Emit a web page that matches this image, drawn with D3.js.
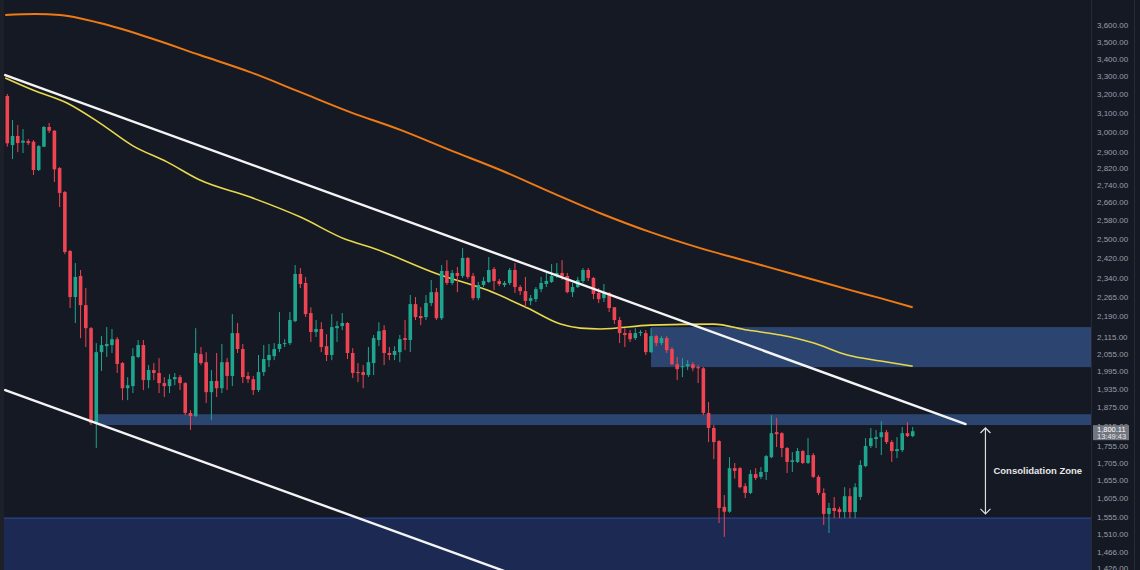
<!DOCTYPE html>
<html>
<head>
<meta charset="utf-8">
<script src="https://cdn.jsdelivr.net/npm/d3@7"></script>
<style>
    html, body { margin: 0; padding: 0; background: #151924; }
    svg { display: block; }
    .priceAxis text { fill: #9a9ea8; font-family: "Liberation Sans", Arial, sans-serif; font-size: 8px; }
    .zoneLabel { fill: #e6e6e6; font-family: "Liberation Sans", Arial, sans-serif; font-size: 9.5px; font-weight: bold; }
    .lastLabel { fill: #ffffff; font-family: "Liberation Sans", Arial, sans-serif; font-size: 7.5px; }
</style>
</head>
<body>
<div id="chart"></div>
<script>
{
    // candles, one entry per bar (oldest first)
    const opens = [3189,2933,2979,2945,2953,2950,2811,2925,3025,3006,2820,2707,2448,2263,2346,2232,2146,1825,2060,2081,
        2085,2106,2022,1937,1944,2043,2085,1964,1998,1988,1954,1944,1967,1974,1954,1857,1847,2053,2025,1924,
        1961,1937,2025,1978,2128,2071,1978,1967,1931,1991,2032,2046,2071,2089,2092,2172,2354,2318,2202,2132,
        2143,2081,2050,2146,2154,2165,2057,1991,1991,1981,2022,2103,2139,2057,2050,2060,2110,2103,2236,2191,
        2187,2240,2282,2183,2366,2318,2358,2346,2419,2346,2259,2310,2322,2374,2326,2310,2318,2370,2302,2286,
        2248,2255,2294,2314,2322,2346,2358,2346,2282,2302,2326,2370,2338,2279,2259,2279,2224,2176,2128,2128,
        2110,2128,2128,2060,2117,2092,2110,2071,2018,2008,2011,2018,2008,2004,1857,1810,1770,1582,1569,1690,
        1690,1639,1620,1673,1665,1679,1722,1797,1794,1749,1708,1708,1740,1705,1728,1665,1620,1563,1579,1576,
        1568,1611,1568,1609,1696,1755,1776,1782,1797,1767,1740,1743,1794,1785];
    const highs = [3200,3061,3035,3014,2963,2958,2933,3030,3046,3009,2825,2712,2452,2398,2370,2298,2150,2092,2117,2150,
        2143,2114,2026,1974,2074,2103,2103,2015,2022,2039,1974,1984,1988,1981,1957,1866,2146,2078,2060,1998,
        2057,2089,2039,2198,2165,2089,1991,1978,2050,2085,2089,2092,2206,2106,2206,2390,2378,2342,2224,2176,
        2168,2124,2198,2172,2202,2168,2074,2022,2015,2078,2121,2168,2157,2078,2081,2121,2176,2271,2263,2224,
        2271,2330,2298,2390,2410,2370,2382,2460,2423,2358,2322,2342,2423,2382,2334,2326,2378,2398,2310,2342,
        2271,2302,2342,2358,2394,2398,2410,2358,2318,2342,2378,2378,2342,2298,2314,2282,2224,2187,2146,2139,
        2146,2139,2139,2146,2121,2117,2117,2078,2043,2039,2032,2025,2015,2008,1892,1819,1773,1614,1722,1705,
        1693,1647,1685,1690,1693,1728,1850,1841,1797,1752,1737,1749,1743,1779,1734,1670,1633,1593,1609,1582,
        1636,1633,1647,1713,1779,1810,1804,1831,1804,1773,1782,1813,1828,1813];
    const lows = [2925,2864,2898,2893,2933,2787,2806,2923,2994,2754,2639,2435,2221,2165,2110,2078,1819,1749,1995,2043,
        2057,1988,1898,1898,1921,2039,1931,1937,1964,1921,1908,1921,1947,1931,1850,1804,1844,2015,1889,1834,
        1908,1921,1931,1944,2057,1954,1954,1915,1924,1978,2008,2032,2060,2078,2085,2168,2298,2187,2096,2114,
        2060,2029,2032,2096,2139,2036,1971,1957,1937,1974,1981,2081,2015,2032,2032,2025,2067,2060,2176,2157,
        2176,2228,2176,2176,2310,2310,2282,2338,2334,2251,2251,2302,2318,2290,2306,2302,2310,2279,2271,2224,
        2232,2244,2282,2302,2318,2338,2330,2278,2263,2298,2318,2326,2255,2240,2244,2206,2161,2092,2078,2096,
        2103,2117,2050,2057,2081,2085,2057,2015,1964,1974,1998,1994,1954,1850,1767,1716,1539,1503,1566,1660,
        1633,1606,1617,1656,1659,1656,1719,1752,1722,1676,1679,1705,1702,1702,1662,1614,1534,1513,1552,1552,
        1552,1552,1552,1601,1693,1749,1749,1728,1761,1708,1719,1737,1782,1782];
    const closes = [2942,2979,2943,2955,2943,2811,2928,3025,3006,2814,2703,2444,2263,2342,2232,2146,1825,2060,2085,2089,
        2106,2019,1937,1947,2046,2085,1964,1998,1988,1954,1944,1967,1974,1954,1857,1847,2057,2022,1924,1961,
        1937,2025,1978,2128,2071,1974,1967,1931,1991,2036,2050,2071,2089,2092,2176,2354,2314,2198,2132,2143,
        2078,2050,2150,2154,2165,2057,1988,1988,1981,2025,2110,2135,2057,2050,2064,2106,2103,2236,2187,2183,
        2240,2282,2183,2366,2318,2358,2346,2419,2342,2259,2310,2326,2370,2326,2314,2318,2370,2302,2286,2248,
        2259,2294,2318,2326,2346,2358,2346,2282,2302,2330,2370,2338,2275,2255,2279,2221,2176,2128,2121,2106,
        2128,2132,2060,2117,2092,2110,2067,2018,2001,2011,2018,2004,2004,1857,1810,1767,1579,1569,1690,1682,
        1636,1620,1673,1662,1679,1725,1794,1791,1749,1708,1713,1740,1705,1728,1665,1620,1563,1579,1571,1568,
        1611,1568,1636,1699,1755,1779,1782,1797,1767,1740,1746,1794,1785,1800];

    // moving averages, sampled at bar positions
    const yellowIdx = [-0.4, 4.9, 11.4, 17.7, 24, 30.5, 36.8, 46.4, 56, 65, 69.4, 82.2, 91.7, 99.4, 105.7, 109.5, 113.3, 122.9, 134.9, 141.4, 147.7, 154.1, 160.5, 166.9, 173];
    const yellowMa = [3289, 3222, 3151, 3045, 2929, 2850, 2763, 2684, 2594, 2494, 2464, 2354, 2290, 2221, 2161, 2146, 2143, 2157, 2161, 2139, 2121, 2092, 2050, 2029, 2011];
    const orangeIdx = [-0.4, 5.3, 10.1, 17.7, 27.3, 36.8, 46.4, 56, 65.5, 75.1, 84.6, 94.2, 103.8, 113.3, 122.9, 132.4, 142, 151.5, 161.1, 166.8, 173];
    const orangeMa = [3662, 3668, 3662, 3612, 3521, 3420, 3322, 3210, 3103, 3010, 2908, 2811, 2707, 2611, 2528, 2460, 2402, 2346, 2290, 2259, 2224];

    // right price scale
    const priceTicks = [3600, 3500, 3400, 3300, 3200, 3100, 3000, 2900, 2820, 2740, 2660, 2580, 2500, 2420, 2340,
        2265, 2190, 2115, 2055, 1995, 1935, 1875, 1815, 1755, 1705, 1655, 1605, 1555, 1510, 1466, 1426];

    // zones: start bar, top price, bottom price
    const zoneStart = [123, 17, -2];
    const zoneTop = [2150, 1853, 1552];
    const zoneBottom = [2008, 1819, 1380];

    // drawn trend lines [bar, price]
    const upperTrend = [[-0.4, 3305], [183.1, 1822]];
    const lowerTrend = [[-0.4, 1931], [100, 1395]];

    // consolidation arrow
    const consolBar = 186.9;
    const consolRange = [1810, 1563];
    const lastPrice = 1800.11;
    const lastTime = "13:49:43";

    const width = 1140, height = 570, plotRight = 1091;

    const x = d3.scaleLinear().domain([0, 173]).range([7.3, 912.7]);
    const y = d3.scaleLog().domain([3600, 1426]).range([25, 567.7]);

    const svg = d3.select("#chart")
        .append("svg")
        .attr("width", width)
        .attr("height", height);

    svg.append("rect")
        .attr("width", width)
        .attr("height", height)
        .attr("fill", "#151924");

    svg.append("clipPath")
        .attr("id", "plotClip")
        .append("rect")
        .attr("x", 0).attr("y", 0)
        .attr("width", plotRight).attr("height", height);

    const plot = svg.append("g").attr("clip-path", "url(#plotClip)");

    // zones
    const zoneFill = ["#2c4570", "#2c4570", "#1b2953"];
    plot.selectAll(".zone")
        .data(zoneStart)
        .join("rect")
        .attr("class", "zone")
        .attr("x", d => x(d))
        .attr("y", (d, i) => y(zoneTop[i]))
        .attr("width", d => plotRight - x(d))
        .attr("height", (d, i) => y(zoneBottom[i]) - y(zoneTop[i]))
        .attr("fill", (d, i) => zoneFill[i]);

    plot.append("line")
        .attr("x1", x(zoneStart[2])).attr("x2", plotRight)
        .attr("y1", y(zoneTop[2])).attr("y2", y(zoneTop[2]))
        .attr("stroke", "#2f4fa6")
        .attr("stroke-width", 1);

    // moving averages
    const maLine = d3.line()
        .x(d => x(d[0]))
        .y(d => y(d[1]))
        .curve(d3.curveMonotoneX);

    plot.append("path")
        .datum(orangeIdx.map((d, i) => [d, orangeMa[i]]))
        .attr("d", maLine)
        .attr("fill", "none")
        .attr("stroke", "#ef7a14")
        .attr("stroke-width", 2);

    plot.append("path")
        .datum(yellowIdx.map((d, i) => [d, yellowMa[i]]))
        .attr("d", maLine)
        .attr("fill", "none")
        .attr("stroke", "#e8d84c")
        .attr("stroke-width", 1.6);

    // candles
    const bars = d3.range(opens.length);
    const up = i => closes[i] >= opens[i];
    const red = "#ef4452", green = "#1fa58e";

    plot.selectAll(".wick")
        .data(bars)
        .join("line")
        .attr("class", "wick")
        .attr("x1", i => x(i)).attr("x2", i => x(i))
        .attr("y1", i => y(highs[i]))
        .attr("y2", i => y(lows[i]))
        .attr("stroke", i => up(i) ? green : red)
        .attr("stroke-width", 1);

    plot.selectAll(".body")
        .data(bars)
        .join("rect")
        .attr("class", "body")
        .attr("x", i => x(i) - 1.8)
        .attr("y", i => y(Math.max(opens[i], closes[i])))
        .attr("width", 3.6)
        .attr("height", i => Math.max(1, y(Math.min(opens[i], closes[i])) - y(Math.max(opens[i], closes[i]))))
        .attr("fill", i => up(i) ? green : red);

    // trend lines
    [upperTrend, lowerTrend].forEach(t => {
        plot.append("line")
            .attr("x1", x(t[0][0])).attr("y1", y(t[0][1]))
            .attr("x2", x(t[1][0])).attr("y2", y(t[1][1]))
            .attr("stroke", "#f4f4f4")
            .attr("stroke-width", 2.4)
            .attr("stroke-linecap", "round");
    });

    // consolidation arrow + label
    const ax = x(consolBar), aTop = y(consolRange[0]), aBot = y(consolRange[1]);
    plot.append("line")
        .attr("x1", ax).attr("x2", ax)
        .attr("y1", aTop).attr("y2", aBot)
        .attr("stroke", "#dcdcdc")
        .attr("stroke-width", 1.2);
    plot.append("path")
        .attr("d", `M${ax - 5},${aTop + 5}L${ax},${aTop}L${ax + 5},${aTop + 5}M${ax - 5},${aBot - 5}L${ax},${aBot}L${ax + 5},${aBot - 5}`)
        .attr("fill", "none")
        .attr("stroke", "#dcdcdc")
        .attr("stroke-width", 1.2);

    plot.append("text")
        .attr("class", "zoneLabel")
        .attr("x", ax + 8)
        .attr("y", (aTop + aBot) / 2)
        .attr("dy", "0.35em")
        .text("Consolidation Zone");

    // left border strip and price scale separators
    svg.append("rect")
        .attr("x", 0).attr("y", 0)
        .attr("width", 4).attr("height", height)
        .attr("fill", "#1d2029");
    svg.append("line")
        .attr("x1", plotRight + 0.5).attr("x2", plotRight + 0.5)
        .attr("y1", 0).attr("y2", height)
        .attr("stroke", "#262a35");
    svg.append("line")
        .attr("x1", 1134.5).attr("x2", 1134.5)
        .attr("y1", 0).attr("y2", height)
        .attr("stroke", "#262a35");

    svg.append("g")
        .attr("class", "priceAxis")
        .attr("transform", `translate(${plotRight + 2}, 0)`)
        .call(d3.axisRight(y).tickValues(priceTicks).tickFormat(d3.format(",.2f")).tickSize(0).tickPadding(4))
        .call(g => g.select(".domain").remove());

    // last price tag
    const ly = y(lastPrice);
    svg.append("rect")
        .attr("x", plotRight + 2)
        .attr("y", ly - 6)
        .attr("width", 36)
        .attr("height", 15)
        .attr("fill", "#7a7e88")
        .attr("opacity", 0.92);
    svg.append("text")
        .attr("class", "lastLabel")
        .attr("x", plotRight + 6)
        .attr("y", ly + 0.5)
        .text(d3.format(",.2f")(lastPrice));
    svg.append("text")
        .attr("class", "lastLabel")
        .attr("x", plotRight + 6)
        .attr("y", ly + 7.5)
        .attr("fill-opacity", 0.85)
        .text(lastTime);
}
</script>
</body>
</html>
